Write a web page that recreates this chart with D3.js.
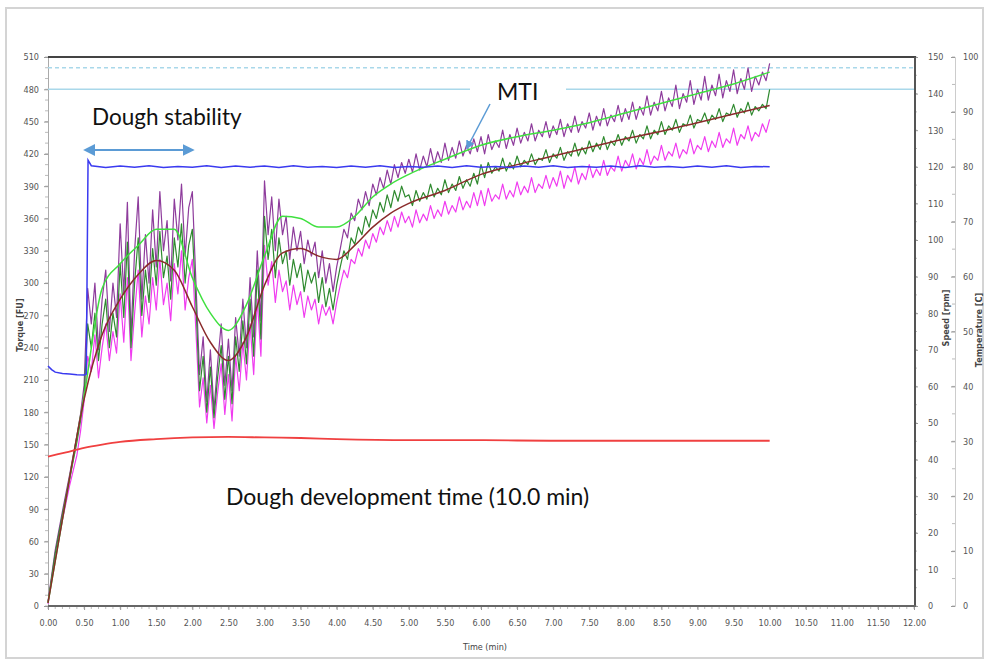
<!DOCTYPE html>
<html><head><meta charset="utf-8">
<script src="https://cdn.jsdelivr.net/npm/d3@7"></script>
<style>
html,body{margin:0;padding:0;background:#fff;}
svg{display:block;}
</style></head>
<body>
<svg id="c" width="984" height="662"></svg>
<script>
// ---------- DATA ----------
const rawStep = 0.05; // raw torque sampled every 0.05 min from 0 to 10 min (one row = 1 min)
const torqueUpper = [
  4,28,52,70,88,105,122,140,158,178,205,295,262,300,238,285,312,255,300,268,
  355,290,375,250,330,380,285,345,300,368,315,385,330,358,302,378,340,392,325,370,
  385,300,215,250,190,238,182,225,262,205,248,200,268,232,285,240,305,250,330,265,
  395,345,380,330,378,345,362,322,352,330,348,318,340,325,338,305,330,300,318,292,
  315,332,350,342,365,358,378,368,385,372,392,382,398,388,405,392,410,398,412,402,
  415,403,420,405,418,408,425,410,422,412,430,414,426,416,432,418,428,420,434,422,
  436,420,438,424,432,426,442,425,438,428,444,430,440,432,448,432,442,436,450,435,
  446,438,452,436,448,440,455,440,450,444,458,442,455,446,462,446,456,450,465,450,
  462,452,468,452,464,456,474,456,468,460,478,460,472,464,484,462,476,468,488,466,
  480,470,492,470,484,474,494,472,488,478,498,476,490,480,500,478,492,484,496,488,
  504];
const torqueMid = [
  3,26,49,67,85,102,118,135,152,172,195,262,240,272,228,262,285,240,272,250,
  318,268,338,240,300,342,270,312,282,332,298,348,305,325,285,342,315,355,300,335,
  350,280,200,232,180,222,175,212,242,192,232,188,250,218,265,225,285,232,312,248,
  362,322,350,305,342,318,330,298,322,305,318,292,312,300,310,282,305,278,295,275,
  298,315,330,322,342,336,352,345,362,352,368,360,375,366,382,370,386,376,390,380,
  382,372,386,376,384,378,392,380,388,382,396,384,392,386,399,388,396,390,402,392,
  410,398,412,402,408,404,416,404,412,406,418,408,414,410,420,410,416,414,424,412,
  420,416,426,414,422,418,430,418,426,420,432,422,430,424,436,424,432,428,438,428,
  436,432,442,430,438,434,446,434,442,438,450,438,446,442,452,440,448,446,456,444,
  452,450,458,448,456,452,462,450,458,456,466,454,462,458,468,456,464,460,466,462,
  480];
const torqueLower = [
  2,24,45,62,80,96,112,126,140,162,190,232,218,252,212,240,262,228,255,235,
  290,245,305,228,272,312,250,288,262,305,275,322,280,300,265,318,290,330,275,305,
  322,255,185,212,170,205,165,198,225,178,215,172,232,200,245,210,262,215,285,232,
  335,298,320,282,312,292,302,275,298,280,292,268,288,275,285,262,280,270,278,262,
  282,298,312,305,322,318,332,325,340,332,346,338,352,345,358,348,362,352,366,356,
  362,352,368,356,364,358,372,360,368,362,376,364,372,366,380,368,376,370,384,372,
  386,372,388,376,382,378,392,378,386,380,394,382,390,384,398,384,392,388,400,388,
  398,390,404,388,400,394,408,392,402,396,410,398,406,400,414,400,408,404,418,404,
  414,408,420,406,416,410,424,410,418,414,428,414,422,418,430,416,424,420,434,420,
  428,424,436,422,432,426,440,426,434,430,444,428,438,434,446,432,440,436,448,440,
  452];
const smoothTime = [0,0.25,0.5,0.75,1,1.25,1.5,1.75,2,2.25,2.5,2.75,3,3.25,3.5,3.75,4,4.25,4.5,4.75,5,5.5,6,6.5,7,7.5,8,8.5,9,9.5,10];
const smoothMid = [3,100,192,252,285,308,321,312,278,245,228,250,298,328,332,325,322,335,352,365,374,386,401,410,418,426,434,441,449,457,465];
const smoothUpper = [3,100,195,295,318,335,350,350,305,272,256,280,325,362,360,352,352,362,380,392,401,415,428,436,442,449,458,467,476,485,496];
const speedTime = [0,0.05,0.1,0.2,0.3,0.4,0.5,0.53,0.555,0.6,
  0.8,1.0,1.2,1.4,1.6,1.8,2.0,2.2,2.4,2.6,2.8,3.0,3.2,3.4,3.6,3.8,4.0,4.2,4.4,4.6,4.8,
  5.0,5.2,5.4,5.6,5.8,6.0,6.2,6.4,6.6,6.8,7.0,7.2,7.4,7.6,7.8,8.0,8.2,8.4,8.6,8.8,
  9.0,9.2,9.4,9.6,9.8,10.0];
const speed = [65.6,64.6,63.9,63.5,63.4,63.2,63.1,63.4,121.8,120.3,
  119.8,120.2,119.9,120.3,119.8,120.1,119.9,120.3,119.8,120.2,
  119.9,120.2,119.8,120.3,119.9,120.1,119.8,120.2,119.9,120.3,
  119.8,120.1,119.9,120.2,119.8,120.3,119.9,120.1,119.8,120.2,
  119.9,120.3,119.8,120.1,119.9,120.2,119.8,120.3,119.9,120.1,
  119.8,120.2,119.9,120.3,119.8,120.1,120.0];
const tempTime = [0,0.25,0.5,0.75,1,1.5,2,2.5,3,3.5,4,5,6,7,8,9,10];
const temperature = [27.2,28.0,28.8,29.4,29.9,30.4,30.7,30.8,30.7,30.6,30.4,30.2,30.2,30.1,30.1,30.1,30.1];
const refLevels = [500, 480];
const xTicks = d3.range(0, 12.01, 0.5);
const torqueTicks = d3.range(0, 511, 30);
const speedTicks = d3.range(0, 151, 10);
const tempTicks = d3.range(0, 101, 10);

// ---------- SCALES ----------
const svg = d3.select("#c");
const X0 = 48, X1 = 914, Y0 = 606, Y1 = 57;
const x = d3.scaleLinear([0, 12], [X0, X1]);
const y = d3.scaleLinear([0, 510], [Y0, Y1]);
const ySpeed = d3.scaleLinear([0, 150], [Y0, Y1]);
const yTemp = d3.scaleLinear([0, 100], [Y0, Y1]);
const axisFont = "'Liberation Sans Narrow','DejaVu Sans Condensed',sans-serif";
const annFont = "Lato, 'Open Sans', sans-serif";

// outer border
svg.append("rect").attr("x", 6).attr("y", 8).attr("width", 977).attr("height", 650)
  .attr("fill", "none").attr("stroke", "#d4d4d4").attr("stroke-width", 2);

// ---------- AXES ----------
function styleAxis(g) {
  g.selectAll("text").attr("font-family", axisFont).attr("font-size", 9).attr("fill", "#555");
  g.selectAll("line").attr("stroke", "#999");
}
const gMinor = svg.append("g");
d3.range(0, 12.001, 0.1).forEach(v => {
  gMinor.append("line").attr("x1", x(v)).attr("x2", x(v)).attr("y1", Y0).attr("y2", Y0 + 3).attr("stroke", "#bbb");
});
d3.range(0, 511, 10).forEach(v => {
  gMinor.append("line").attr("x1", X0 - 3).attr("x2", X0).attr("y1", y(v)).attr("y2", y(v)).attr("stroke", "#bbb");
});
d3.range(0, 151, 5).forEach(v => {
  gMinor.append("line").attr("x1", X1).attr("x2", X1 + 3).attr("y1", ySpeed(v)).attr("y2", ySpeed(v)).attr("stroke", "#bbb");
});
d3.range(0, 101, 5).forEach(v => {
  gMinor.append("line").attr("x1", 952).attr("x2", 955).attr("y1", yTemp(v)).attr("y2", yTemp(v)).attr("stroke", "#bbb");
});

svg.append("g").attr("transform", `translate(0,${Y0})`)
  .call(d3.axisBottom(x).tickValues(xTicks).tickFormat(d3.format(".2f")).tickSize(4).tickPadding(10))
  .call(g => { g.select(".domain").remove(); styleAxis(g); });

svg.append("g").attr("transform", `translate(${X0},0)`)
  .call(d3.axisLeft(y).tickValues(torqueTicks).tickSize(4).tickPadding(5))
  .call(g => { g.select(".domain").attr("stroke", "#aaa"); styleAxis(g); });

svg.append("g").attr("transform", `translate(${X1},0)`)
  .call(d3.axisRight(ySpeed).tickValues(speedTicks).tickSize(4).tickPadding(10))
  .call(g => { g.select(".domain").remove(); styleAxis(g); });

svg.append("g").attr("transform", `translate(955,0)`)
  .call(d3.axisRight(yTemp).tickValues(tempTicks).tickSize(-4).tickPadding(8))
  .call(g => { g.select(".domain").attr("stroke", "#ccc"); styleAxis(g); });

// frame lines
svg.append("line").attr("x1", X0).attr("x2", X1 + 2).attr("y1", Y1).attr("y2", Y1).attr("stroke", "#444").attr("stroke-width", 2);
svg.append("line").attr("x1", X1 + 1).attr("x2", X1 + 1).attr("y1", Y1).attr("y2", Y0 + 1).attr("stroke", "#555").attr("stroke-width", 2);
svg.append("line").attr("x1", X0).attr("x2", X1 + 2).attr("y1", Y0).attr("y2", Y0).attr("stroke", "#666").attr("stroke-width", 2);

// axis titles
svg.append("text").attr("transform", `translate(23,325) rotate(-90)`).attr("text-anchor", "middle")
  .attr("font-family", axisFont).attr("font-size", 9).attr("font-weight", "bold").attr("fill", "#444").text("Torque [FU]");
svg.append("text").attr("transform", `translate(949,318) rotate(-90)`).attr("text-anchor", "middle")
  .attr("font-family", axisFont).attr("font-size", 9).attr("font-weight", "bold").attr("fill", "#444").text("Speed [rpm]");
svg.append("text").attr("transform", `translate(982,330) rotate(-90)`).attr("text-anchor", "middle")
  .attr("font-family", axisFont).attr("font-size", 9).attr("font-weight", "bold").attr("fill", "#444").text("Temperature [C]");
svg.append("text").attr("x", 463).attr("y", 650)
  .attr("font-family", axisFont).attr("font-size", 9).attr("fill", "#444").text("Time (min)");

// ---------- REFERENCE LINES ----------
svg.selectAll(".ref").data(refLevels).join("line")
  .attr("x1", X0).attr("x2", X1).attr("y1", d => y(d)).attr("y2", d => y(d))
  .attr("stroke", "#a9d8ea").attr("stroke-width", 1.5)
  .attr("stroke-dasharray", (d, i) => i === 0 ? "4,3" : null);

// ---------- SERIES ----------
const rawLine = d3.line().x((d, i) => x(i * rawStep)).y(d => y(d));
function drawRaw(data, color, w) {
  svg.append("path").datum(data).attr("d", rawLine).attr("fill", "none")
    .attr("stroke", color).attr("stroke-width", w).attr("stroke-linejoin", "round");
}
drawRaw(torqueLower, "#f03cf0", 1.2);
drawRaw(torqueUpper, "#8e3c9c", 1.2);
drawRaw(torqueMid, "#2f8a2f", 1.2);

const smoothLine = d3.line().curve(d3.curveMonotoneX).x((d, i) => x(smoothTime[i])).y(d => y(d));
svg.append("path").datum(smoothUpper).attr("d", smoothLine).attr("fill", "none").attr("stroke", "#3fe03f").attr("stroke-width", 1.5);
svg.append("path").datum(smoothMid).attr("d", smoothLine).attr("fill", "none").attr("stroke", "#8a2b2b").attr("stroke-width", 1.5);

const speedLine = d3.line().x((d, i) => x(speedTime[i])).y(d => ySpeed(d));
svg.append("path").datum(speed).attr("d", speedLine).attr("fill", "none").attr("stroke", "#3a3af0").attr("stroke-width", 1.5);

const tempLine = d3.line().curve(d3.curveMonotoneX).x((d, i) => x(tempTime[i])).y(d => yTemp(d));
svg.append("path").datum(temperature).attr("d", tempLine).attr("fill", "none").attr("stroke", "#f04040").attr("stroke-width", 1.8);

// ---------- ANNOTATIONS ----------
const annColor = "#5b9bd5";
const defs = svg.append("defs");
defs.append("marker").attr("id", "ah").attr("viewBox", "0 0 10 10").attr("refX", 8).attr("refY", 5)
  .attr("markerWidth", 6).attr("markerHeight", 6).attr("orient", "auto-start-reverse")
  .append("path").attr("d", "M0,0 L10,5 L0,10 Z").attr("fill", annColor);

svg.append("text").attr("x", 92).attr("y", 125).attr("font-family", annFont).attr("font-size", 22.5)
  .attr("fill", "#111").text("Dough stability");
svg.append("line").attr("x1", x(0.52)).attr("x2", x(2.0)).attr("y1", 150).attr("y2", 150)
  .attr("stroke", annColor).attr("stroke-width", 2)
  .attr("marker-start", "url(#ah)").attr("marker-end", "url(#ah)");

svg.append("rect").attr("x", 470).attr("y", 76).attr("width", 96).attr("height", 28).attr("fill", "#fff");
svg.append("text").attr("x", 497).attr("y", 100).attr("font-family", annFont).attr("font-size", 23)
  .attr("fill", "#111").text("MTI");
svg.append("line").attr("x1", 490).attr("y1", 104).attr("x2", 467).attr("y2", 148)
  .attr("stroke", annColor).attr("stroke-width", 1.5).attr("marker-end", "url(#ah)");

svg.append("text").attr("x", 226).attr("y", 505).attr("font-family", annFont).attr("font-size", 23)
  .attr("fill", "#111").text("Dough development time (10.0 min)");
</script>
</body></html>
